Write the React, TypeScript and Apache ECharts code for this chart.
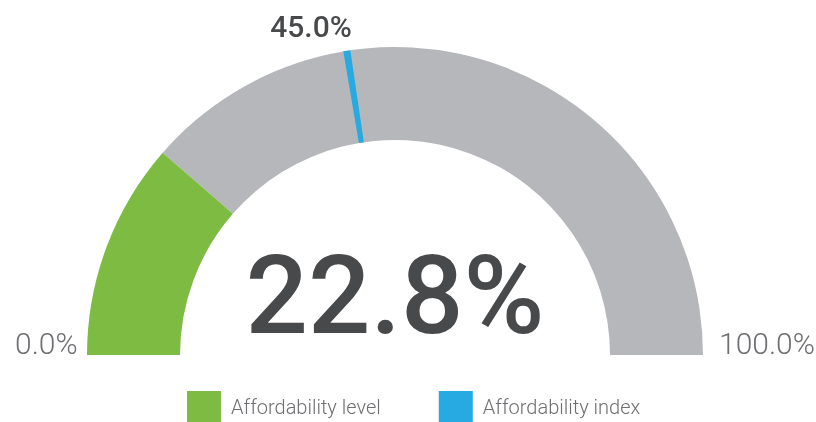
import React, { useEffect, useRef } from "react";
import * as echarts from "echarts";

const seriesNames = ["Affordability level", "Affordability index"];
const levelValue = 22.8;
const indexValue = 45.0;
const axisMin = 0;
const axisMax = 100;
const tickLabels = ["0.0%", "100.0%"];
const colors = { level: "#7dbb42", index: "#27a9e1", track: "#b6b7ba" };

export default function App() {
  const ref = useRef<HTMLDivElement>(null);
  useEffect(() => {
    if (!ref.current) return;
    const chart = echarts.init(ref.current, undefined, { renderer: "svg" });
    const cx = 395, cy = 355, R = 308, W = 93;
    const idxFrac = (indexValue - axisMin) / (axisMax - axisMin);
    const lvlFrac = (levelValue - axisMin) / (axisMax - axisMin);
    const half = 0.0037;
    const common = {
      type: "gauge",
      center: [cx, cy],
      radius: R,
      startAngle: 180,
      endAngle: 0,
      min: axisMin,
      max: axisMax,
      splitNumber: 1,
      pointer: { show: false },
      anchor: { show: false },
      progress: { show: false },
      axisTick: { show: false },
      splitLine: { show: false },
      axisLabel: { show: false },
      title: { show: false },
    };
    chart.setOption({
      animation: false,
      legend: {
        left: 187,
        top: 391,
        padding: 0,
        itemWidth: 34,
        itemHeight: 31,
        itemGap: 58,
        icon: "rect",
        textStyle: {
          fontFamily: "Roboto",
          fontSize: 20,
          fontWeight: 300,
          color: "#6d6e71",
          padding: [0, 0, 0, 5],
        },
        data: [
          { name: seriesNames[0], itemStyle: { color: colors.level } },
          { name: seriesNames[1], itemStyle: { color: colors.index } },
        ],
      },
      series: [
        {
          ...common,
          name: seriesNames[0],
          itemStyle: { color: colors.level },
          axisLine: {
            lineStyle: {
              width: W,
              color: [
                [lvlFrac, colors.level],
                [1, colors.track],
              ],
            },
          },
          detail: {
            show: true,
            offsetCenter: [0, -60],
            fontFamily: "Roboto",
            fontSize: 110,
            fontWeight: 500,
            color: "#48494b",
            formatter: (v: number) => v.toFixed(1) + "%",
          },
          data: [{ value: levelValue, name: seriesNames[0] }],
        },
        {
          ...common,
          name: seriesNames[1],
          itemStyle: { color: colors.index },
          axisLine: {
            lineStyle: {
              width: W,
              color: [
                [idxFrac - half, "rgba(0,0,0,0)"],
                [idxFrac + half, colors.index],
                [1, "rgba(0,0,0,0)"],
              ],
            },
          },
          detail: {
            show: true,
            offsetCenter: [-84, -329],
            fontFamily: "Roboto",
            fontSize: 30,
            fontWeight: 500,
            color: "#48494b",
            formatter: (v: number) => v.toFixed(1) + "%",
          },
          data: [{ value: indexValue, name: seriesNames[1] }],
        },
      ],
      graphic: [
        {
          type: "text",
          left: 15,
          top: 328,
          style: {
            text: tickLabels[0],
            fontFamily: "Roboto",
            fontSize: 30,
            fontWeight: 300,
            fill: "#6d6e71",
          },
        },
        {
          type: "text",
          left: 719,
          top: 328,
          style: {
            text: tickLabels[1],
            fontFamily: "Roboto",
            fontSize: 30,
            fontWeight: 300,
            fill: "#6d6e71",
          },
        },
      ],
    });
    return () => chart.dispose();
  }, []);
  return (
    <div
      ref={ref}
      style={{ position: "fixed", left: 0, top: 0, width: 816, height: 422 }}
    />
  );
}
